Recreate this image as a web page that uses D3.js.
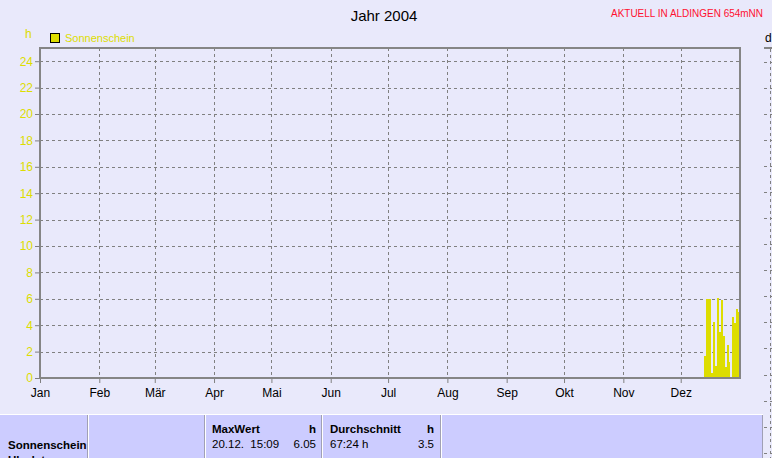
<!DOCTYPE html>
<html><head><meta charset="utf-8">
<script src="https://cdn.jsdelivr.net/npm/d3@7"></script>
<style>
html,body{margin:0;padding:0;background:#e9e9fb;}
svg{display:block;}
text{font-family:"Liberation Sans",Arial,sans-serif;}
</style></head>
<body>
<script>
// ---- data ----
const title = "Jahr 2004";
const station = "AKTUELL IN ALDINGEN 654mNN";
const seriesName = "Sonnenschein";
const unit = "h";
const monthLabels = ["Jan","Feb","Mär","Apr","Mai","Jun","Jul","Aug","Sep","Okt","Nov","Dez"];
const yTicks = [0,2,4,6,8,10,12,14,16,18,20,22,24];
const days = ["2004-12-13","2004-12-14","2004-12-15","2004-12-16","2004-12-17","2004-12-18","2004-12-19","2004-12-20","2004-12-21","2004-12-22","2004-12-23","2004-12-24","2004-12-25","2004-12-26","2004-12-27","2004-12-28","2004-12-29","2004-12-30","2004-12-31"];
const sunHours = [1.67,5.98,5.98,5.98,0.4,4.24,0.9,6.05,3.48,5.9,3.2,0.8,2.5,1.24,0,4.62,4.17,5.23,5.0];
const tableHeaders = ["MaxWert","Durchschnitt"];
const maxRow = ["20.12.  15:09","6.05"];
const avgRow = ["67:24 h","3.5"];

const W = 772, H = 458;
const svg = d3.select("body").append("svg").attr("width", W).attr("height", H);
svg.append("rect").attr("width", W).attr("height", H).attr("fill", "#e9e9fb");

const parse = d3.timeParse("%Y-%m-%d");
const x = d3.scaleTime().domain([new Date(2004,0,1), new Date(2005,0,1)]).range([40,740]);
const y = d3.scaleLinear().domain([0,25]).range([378,48]);
const grid = "#808080", axisCol = "#858585", yellow = "#dddd00";

// title
svg.append("text").attr("x", 384).attr("y", 21).attr("text-anchor","middle")
  .attr("font-size", 15).attr("fill","#000").text(title);
svg.append("text").attr("x", 611).attr("y", 17).attr("font-size", 10.5)
  .attr("fill","#ff1030").attr("textLength",152).attr("lengthAdjust","spacingAndGlyphs").text(station);

// legend
svg.append("rect").attr("x",50.5).attr("y",33.5).attr("width",9).attr("height",9)
  .attr("fill",yellow).attr("stroke","#000").attr("stroke-width",1);
svg.append("text").attr("x",65).attr("y",42).attr("font-size",11).attr("fill",yellow).text(seriesName);
svg.append("text").attr("x",25).attr("y",38).attr("font-size",12).attr("fill",yellow).text(unit);

// grid
const months = d3.timeMonth.range(new Date(2004,0,1), new Date(2005,0,1));
svg.append("g").selectAll("line").data(months.slice(1)).join("line")
  .attr("x1", d=>Math.round(x(d))+0.5).attr("x2", d=>Math.round(x(d))+0.5)
  .attr("y1", y(25)).attr("y2", y(0))
  .attr("stroke", grid).attr("stroke-dasharray","3,3");
svg.append("g").selectAll("line").data(yTicks.slice(1)).join("line")
  .attr("x1", 40).attr("x2", 740)
  .attr("y1", d=>Math.round(y(d))+0.5).attr("y2", d=>Math.round(y(d))+0.5)
  .attr("stroke", grid).attr("stroke-dasharray","3,3");

// bars
svg.append("g").selectAll("rect").data(days.map((d,i)=>({d:parse(d), v:sunHours[i]}))).join("rect")
  .attr("x", d=>x(d.d))
  .attr("width", d=>x(d3.timeDay.offset(d.d,1)) - x(d.d))
  .attr("y", d=>y(d.v))
  .attr("height", d=>y(0)-y(d.v))
  .attr("fill", yellow).attr("shape-rendering","crispEdges");

// axes
const yAxis = d3.axisLeft(y).tickValues(yTicks).tickSize(5).tickPadding(2);
const gy = svg.append("g").attr("transform","translate(40,0)").call(yAxis);
gy.select(".domain").remove();
gy.selectAll(".tick line").attr("stroke", grid);
gy.selectAll(".tick text").attr("fill", yellow).attr("font-size", 12)
  .attr("font-family","Liberation Sans, Arial, sans-serif");

const xAxis = d3.axisBottom(x).tickValues(months).tickSize(5).tickPadding(5)
  .tickFormat((d,i)=>monthLabels[d.getMonth()]);
const gx = svg.append("g").attr("transform","translate(0,378)").call(xAxis);
gx.select(".domain").remove();
gx.selectAll(".tick line").attr("stroke", grid);
gx.selectAll(".tick text").attr("fill","#000").attr("font-size",12)
  .attr("font-family","Liberation Sans, Arial, sans-serif");

// plot frame
svg.append("rect").attr("x",40).attr("y",48).attr("width",700).attr("height",330)
  .attr("fill","none").attr("stroke",axisCol).attr("stroke-width",2);

// partial neighbouring chart on the right
svg.append("text").attr("x",765).attr("y",42).attr("font-size",12).attr("fill","#000").text("d");
svg.append("line").attr("x1",764).attr("x2",772).attr("y1",48).attr("y2",48).attr("stroke",axisCol).attr("stroke-width",2);
svg.append("line").attr("x1",770.5).attr("x2",770.5).attr("y1",49).attr("y2",458)
  .attr("stroke",grid).attr("stroke-dasharray","3,3");
const y2 = d3.scaleLinear().domain([0,24]).range([374.5,61.5]);
svg.append("g").selectAll("line").data(d3.range(-3,13)).join("line")
  .attr("x1",764).attr("x2",772).attr("y1",d=>Math.round(y2(d*2))+0.5).attr("y2",d=>Math.round(y2(d*2))+0.5)
  .attr("stroke",grid).attr("stroke-dasharray","3,3");

// table
const tb = svg.append("g");
tb.append("rect").attr("x",0).attr("y",415).attr("width",763).attr("height",50).attr("fill","#ccccff");
tb.append("line").attr("x1",0).attr("x2",763).attr("y1",414.5).attr("y2",414.5).attr("stroke","#fff");
const cols = [88,205,322,441,763];
cols.forEach(c=>{
  tb.append("line").attr("x1",c-0.5).attr("x2",c-0.5).attr("y1",415).attr("y2",458).attr("stroke","#a0a0b4");
  tb.append("line").attr("x1",c+0.5).attr("x2",c+0.5).attr("y1",415).attr("y2",458).attr("stroke","#ffffff").attr("opacity",c===763?0:1);
});
const fs = 11.5;
tb.append("text").attr("x",8).attr("y",449).attr("font-size",fs).attr("font-weight","bold").text(seriesName);
tb.append("text").attr("x",8).attr("y",464).attr("font-size",fs).attr("font-weight","bold").text("Uhrdatum");
tb.append("text").attr("x",212).attr("y",433).attr("font-size",fs).attr("font-weight","bold").text(tableHeaders[0]);
tb.append("text").attr("x",316).attr("y",433).attr("font-size",fs).attr("font-weight","bold").attr("text-anchor","end").text(unit);
tb.append("text").attr("x",212).attr("y",448).attr("font-size",fs).attr("xml:space","preserve").style("white-space","pre").text(maxRow[0]);
tb.append("text").attr("x",316).attr("y",448).attr("font-size",fs).attr("text-anchor","end").text(maxRow[1]);
tb.append("text").attr("x",330).attr("y",433).attr("font-size",fs).attr("font-weight","bold").text(tableHeaders[1]);
tb.append("text").attr("x",434).attr("y",433).attr("font-size",fs).attr("font-weight","bold").attr("text-anchor","end").text(unit);
tb.append("text").attr("x",330).attr("y",448).attr("font-size",fs).text(avgRow[0]);
tb.append("text").attr("x",434).attr("y",448).attr("font-size",fs).attr("text-anchor","end").text(avgRow[1]);
</script>
</body></html>
